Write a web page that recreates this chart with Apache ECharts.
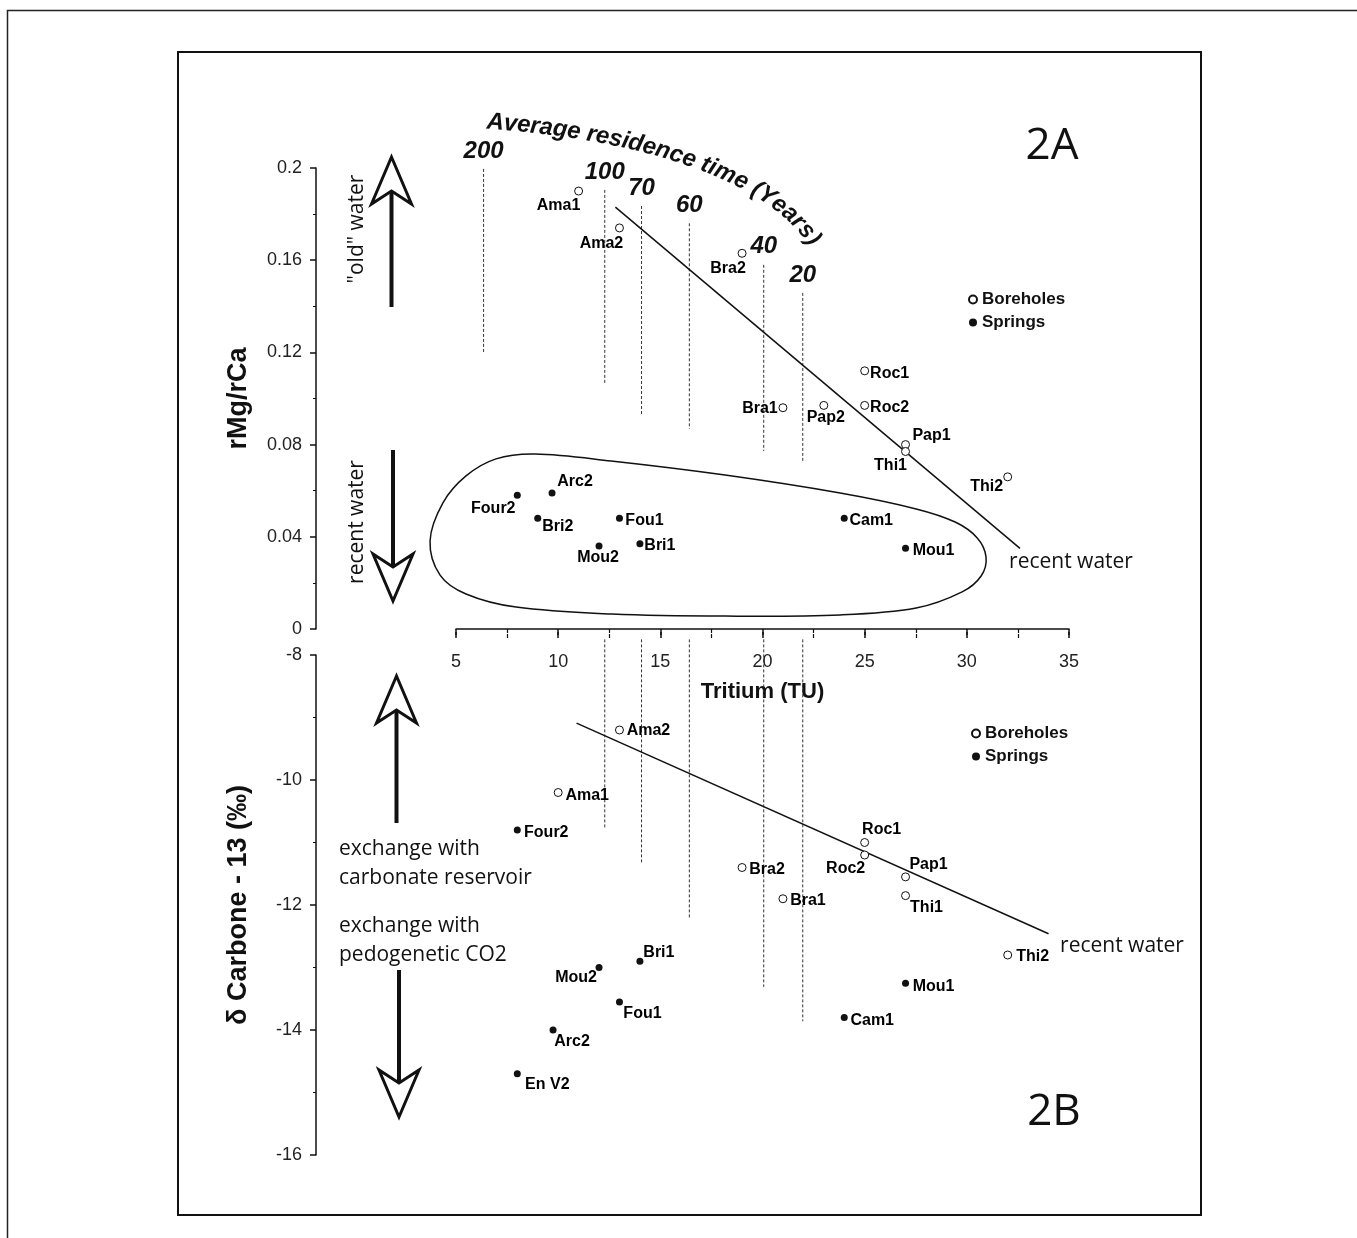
<!DOCTYPE html>
<html>
<head>
<meta charset="utf-8">
<title>Tritium vs rMg/rCa and Carbone-13</title>
<script src="https://cdn.jsdelivr.net/npm/echarts@6.0.0/dist/echarts.min.js"></script>
<style>
    html, body { margin: 0; padding: 0; background: #fff; }
    #main { width: 1357px; height: 1238px; }
</style>
</head>
<body>
<div id="main"></div>
<script type="text/javascript">
// ---- values ----
// 2A : tritium (TU) vs rMg/rCa
var boreNamesA = ['Ama1', 'Ama2', 'Bra2', 'Bra1', 'Pap2', 'Roc1', 'Roc2', 'Pap1', 'Thi1', 'Thi2'];
var boreTritiumA = [11, 13, 19, 21, 23, 25, 25, 27, 27, 32];
var boreMgCa = [0.190, 0.174, 0.163, 0.096, 0.097, 0.112, 0.097, 0.080, 0.077, 0.066];

var springNamesA = ['Four2', 'Arc2', 'Bri2', 'Fou1', 'Mou2', 'Bri1', 'Cam1', 'Mou1'];
var springTritiumA = [8, 9.7, 9, 13, 12, 14, 24, 27];
var springMgCa = [0.058, 0.059, 0.048, 0.048, 0.036, 0.037, 0.048, 0.035];

// 2B : tritium (TU) vs delta C13
var boreNamesB = ['Ama2', 'Ama1', 'Roc1', 'Roc2', 'Bra2', 'Pap1', 'Bra1', 'Thi1', 'Thi2'];
var boreTritiumB = [13, 10, 25, 25, 19, 27, 21, 27, 32];
var boreC13 = [-9.2, -10.2, -11.0, -11.2, -11.4, -11.55, -11.9, -11.85, -12.8];

var springNamesB = ['Four2', 'Bri1', 'Mou2', 'Mou1', 'Fou1', 'Cam1', 'Arc2', 'En V2'];
var springTritiumB = [8, 14, 12, 27, 13, 24, 9.75, 8];
var springC13 = [-10.8, -12.9, -13.0, -13.25, -13.55, -13.8, -14.0, -14.7];

// trend lines
var trendTritiumA = [12.8, 32.6];
var trendMgCa = [0.183, 0.035];
var trendTritiumB = [10.9, 34.0];
var trendC13 = [-9.09, -12.46];

// average residence time (years) reference lines
var residenceYears = ['200', '100', '70', '60', '40', '20'];
var residenceTritium = [6.35, 12.28, 14.08, 16.42, 20.06, 21.97];
var residenceTopA = [0.1996, 0.1905, 0.1835, 0.176, 0.158, 0.1458];
var residenceBottomA = [0.1197, 0.1067, 0.0933, 0.0868, 0.0772, 0.072];
var residenceTopB = [null, -7.75, -7.75, -7.75, -7.75, -7.75];
var residenceBottomB = [null, -10.78, -11.33, -12.21, -13.31, -13.86];

// loop drawn round the springs in 2A
var outlineTritium = [3.73, 4.36, 5.49, 6.96, 8.87, 12.59, 18.17, 23.80, 27.52, 29.43, 30.51,
    30.94, 30.70, 29.77, 27.52, 23.80, 18.17, 12.64, 7.94, 5.49, 4.22];
var outlineMgCa = [0.0382, 0.0547, 0.0664, 0.0738, 0.0759, 0.0729, 0.0668, 0.0590, 0.0521, 0.0464, 0.0395,
    0.0312, 0.0230, 0.0161, 0.0091, 0.0061, 0.0056, 0.0065, 0.0095, 0.0152, 0.0234];

// ---- styling ----
var SANS = '"Liberation Sans", Arial, sans-serif';
var SOFT = '"Open Sans", sans-serif';
var INK = '#111';

// label placement (centre offset from the marker, px)
var labelOffsetA = {
    'Ama1': [-20, 15], 'Ama2': [-18, 16], 'Bra2': [-14, 15], 'Bra1': [-23, 1], 'Pap2': [2, 12],
    'Roc1': [25, 3], 'Roc2': [25, 2], 'Pap1': [26, -9], 'Thi1': [-15, 14], 'Thi2': [-21, 10],
    'Four2': [-24, 13], 'Arc2': [23, -11], 'Bri2': [20, 8], 'Fou1': [25, 2], 'Mou2': [-1, 12],
    'Bri1': [20, 2], 'Cam1': [27, 2], 'Mou1': [28, 2]
};
var labelOffsetB = {
    'Ama2': [29, 1], 'Ama1': [29, 3], 'Four2': [29, 3], 'Roc1': [17, -13], 'Roc2': [-19, 14],
    'Bra2': [25, 2], 'Pap1': [23, -12], 'Bra1': [25, 2], 'Thi1': [21, 12], 'Thi2': [25, 2],
    'Bri1': [19, -9], 'Mou2': [-23, 10], 'Mou1': [28, 3], 'Fou1': [23, 12], 'Cam1': [28, 3],
    'Arc2': [19, 12], 'En V2': [30, 11]
};

function points(names, xs, ys, offsets) {
    return names.map(function (n, i) {
        return { name: n, value: [xs[i], ys[i]], label: { offset: offsets[n] } };
    });
}

var pointLabel = {
    show: true, position: 'inside', formatter: '{b}',
    fontFamily: SANS, fontWeight: 'bold', fontSize: 16, color: '#000',
    textBorderColor: 'transparent', textBorderWidth: 0, textShadowBlur: 0
};

function scatter(name, xi, yi, data, open) {
    return {
        name: name, type: 'scatter', xAxisIndex: xi, yAxisIndex: yi,
        symbol: 'circle', symbolSize: open ? 8 : 7,
        itemStyle: open
            ? { color: '#fff', borderColor: INK, borderWidth: 1, opacity: 1 }
            : { color: INK, opacity: 1 },
        label: pointLabel, emphasis: { disabled: true }, z: 5,
        data: data
    };
}

function trend(xi, yi, xs, ys) {
    return {
        type: 'line', xAxisIndex: xi, yAxisIndex: yi, showSymbol: false, silent: true,
        lineStyle: { color: INK, width: 1.5 }, z: 3,
        data: xs.map(function (x, i) { return [x, ys[i]]; })
    };
}

function residence(xi, yi, tops, bottoms, withText) {
    var data = [];
    residenceTritium.forEach(function (x, i) {
        if (tops[i] !== null) data.push([x, tops[i], bottoms[i], i]);
    });
    return {
        type: 'custom', xAxisIndex: xi, yAxisIndex: yi, silent: true, z: 1,
        data: data,
        renderItem: function (params, api) {
            var p1 = api.coord([api.value(0), api.value(1)]);
            var p2 = api.coord([api.value(0), api.value(2)]);
            var kids = [{
                type: 'line',
                shape: { x1: p1[0], y1: p1[1], x2: p2[0], y2: p2[1] },
                style: { stroke: '#333', lineWidth: 1, lineDash: [3, 2] }
            }];
            if (withText) {
                kids.push({
                    type: 'text', x: p1[0], y: p1[1] - 18,
                    style: {
                        text: residenceYears[api.value(3)], fill: INK,
                        font: 'italic bold 24px ' + SANS, align: 'center', verticalAlign: 'middle'
                    }
                });
            }
            return { type: 'group', children: kids };
        }
    };
}

// curved "Average residence time (Years)" title, laid along a cubic bezier
function curvedText(str, p0, p1, p2, p3, font) {
    var ctx = document.createElement('canvas').getContext('2d');
    ctx.font = font;
    var chars = str.split('');
    var widths = chars.map(function (c) { return ctx.measureText(c).width; });
    var total = widths.reduce(function (a, b) { return a + b; }, 0);

    var N = 400, pts = [], cum = [0];
    for (var k = 0; k <= N; k++) {
        var t = k / N, u = 1 - t;
        pts.push([
            u * u * u * p0[0] + 3 * u * u * t * p1[0] + 3 * u * t * t * p2[0] + t * t * t * p3[0],
            u * u * u * p0[1] + 3 * u * u * t * p1[1] + 3 * u * t * t * p2[1] + t * t * t * p3[1]
        ]);
        if (k > 0) cum.push(cum[k - 1] + Math.hypot(pts[k][0] - pts[k - 1][0], pts[k][1] - pts[k - 1][1]));
    }
    var len = cum[N];
    var gap = (len - total) / (chars.length - 1);

    var out = [], s = 0;
    chars.forEach(function (c, i) {
        var mid = s + widths[i] / 2;
        var j = 1;
        while (j < N && cum[j] < mid) j++;
        var f = (mid - cum[j - 1]) / (cum[j] - cum[j - 1]);
        var x = pts[j - 1][0] + f * (pts[j][0] - pts[j - 1][0]);
        var y = pts[j - 1][1] + f * (pts[j][1] - pts[j - 1][1]);
        var ang = Math.atan2(pts[j][1] - pts[j - 1][1], pts[j][0] - pts[j - 1][0]);
        // lift from baseline to glyph middle
        x += Math.sin(ang) * 9;
        y -= Math.cos(ang) * 9;
        out.push({
            type: 'text', x: x, y: y, rotation: -ang,
            style: { text: c, font: font, fill: INK, align: 'center', verticalAlign: 'middle' }
        });
        s += widths[i] + gap;
    });
    return out;
}

function arrow(x, tip, tail) {
    var d = tail > tip ? 1 : -1;
    return {
        type: 'group', children: [
            { type: 'line', shape: { x1: x, y1: tip + d * 34, x2: x, y2: tail }, style: { stroke: INK, lineWidth: 4 } },
            {
                type: 'polygon',
                shape: { points: [[x, tip], [x + 20, tip + d * 47], [x, tip + d * 34], [x - 20, tip + d * 47]] },
                style: { fill: '#fff', stroke: INK, lineWidth: 3, lineJoin: 'miter' }
            }
        ]
    };
}

function note(text, x, y, opts) {
    opts = opts || {};
    return {
        type: 'text', x: x, y: y, rotation: opts.rotation || 0,
        style: {
            text: text, fill: INK, font: (opts.size || 21) + 'px ' + SOFT,
            align: opts.align || 'center', verticalAlign: 'middle'
        }
    };
}

var tickLabel = { fontFamily: SANS, fontSize: 18, color: '#222' };
var xName = { fontFamily: SANS, fontWeight: 'bold', fontSize: 22, color: INK };
var yName = { fontFamily: SANS, fontWeight: 'bold', fontSize: 27, color: INK };
var axisLine = { show: true, lineStyle: { color: INK, width: 1.5 } };

var graphics = [
    { type: 'polyline', shape: { points: [[7.5, 1238], [7.5, 10.5], [1357, 10.5]] }, style: { stroke: '#222', lineWidth: 1.5, fill: null } },
    { type: 'rect', shape: { x: 178, y: 52, width: 1023, height: 1163 }, style: { fill: null, stroke: INK, lineWidth: 2 } },
    arrow(391.5, 157, 307),
    arrow(393, 601, 450),
    arrow(396.5, 676, 823),
    arrow(399, 1117, 970),
    note('"old" water', 357, 229, { rotation: Math.PI / 2 }),
    note('recent water', 357, 522, { rotation: Math.PI / 2 }),
    note('exchange with', 339, 849, { align: 'left' }),
    note('carbonate reservoir', 339, 878, { align: 'left' }),
    note('exchange with', 339, 926, { align: 'left' }),
    note('pedogenetic CO2', 339, 955, { align: 'left' }),
    note('recent water', 1071, 562),
    note('recent water', 1122, 946),
    note('2A', 1052, 146, { size: 44 }),
    note('2B', 1054, 1112, { size: 44 })
].concat(curvedText('Average residence time (Years)',
    [486, 131], [636, 141], [764, 180], [808, 248], 'italic bold 24px ' + SANS));

var chart = echarts.init(document.getElementById('main'));

var option = {
    backgroundColor: '#fff',
    animation: false,
    grid: [
        { left: 456, top: 168, width: 613, height: 461 },
        { left: 456, top: 655, width: 613, height: 500 }
    ],
    xAxis: [{
        gridIndex: 0, type: 'value', min: 5, max: 35, interval: 5, position: 'bottom', offset: 9,
        axisLine: axisLine,
        axisTick: { show: true, inside: false, length: 6, lineStyle: { color: INK, width: 1.5 } },
        minorTick: { show: true, splitNumber: 2, length: 4, lineStyle: { color: INK, width: 1.2 } },
        axisLabel: Object.assign({ margin: 15 }, tickLabel),
        splitLine: { show: false },
        name: 'Tritium (TU)', nameLocation: 'middle', nameGap: 43, nameTextStyle: xName
    }, {
        gridIndex: 0, type: 'value', min: 5, max: 35, interval: 5, position: 'bottom', offset: 9,
        axisLine: { show: false },
        axisTick: { show: true, inside: true, length: 6, lineStyle: { color: INK, width: 1.5 } },
        minorTick: { show: true, splitNumber: 2, length: 4, lineStyle: { color: INK, width: 1.2 } },
        axisLabel: { show: false },
        splitLine: { show: false }
    }, {
        gridIndex: 1, type: 'value', min: 5, max: 35, show: false, splitLine: { show: false }
    }],
    yAxis: [{
        gridIndex: 0, type: 'value', min: 0, max: 0.2, interval: 0.04, offset: 140,
        axisLine: axisLine,
        axisTick: { show: true, length: 6, lineStyle: { color: INK, width: 1.5 } },
        minorTick: { show: true, splitNumber: 2, length: 3, lineStyle: { color: INK } },
        axisLabel: Object.assign({ margin: 14 }, tickLabel),
        splitLine: { show: false },
        name: 'rMg/rCa', nameLocation: 'middle', nameRotate: 90, nameGap: 64, nameTextStyle: yName
    }, {
        gridIndex: 1, type: 'value', min: -16, max: -8, interval: 2, offset: 140,
        axisLine: axisLine,
        axisTick: { show: true, length: 6, lineStyle: { color: INK, width: 1.5 } },
        minorTick: { show: true, splitNumber: 2, length: 3, lineStyle: { color: INK } },
        axisLabel: Object.assign({ margin: 14 }, tickLabel),
        splitLine: { show: false },
        name: 'δ Carbone - 13 (‰)', nameLocation: 'middle', nameRotate: 90, nameGap: 64, nameTextStyle: yName
    }],
    legend: [{
        data: ['Boreholes', 'Springs'], orient: 'vertical', left: 968, top: 291,
        itemWidth: 8, itemHeight: 8, itemGap: 6, padding: 0, selectedMode: false,
        textStyle: { fontFamily: SANS, fontWeight: 'bold', fontSize: 17, color: INK }
    }, {
        data: ['Boreholes', 'Springs'], orient: 'vertical', left: 971, top: 725,
        itemWidth: 8, itemHeight: 8, itemGap: 6, padding: 0, selectedMode: false,
        textStyle: { fontFamily: SANS, fontWeight: 'bold', fontSize: 17, color: INK }
    }],
    graphic: { elements: graphics },
    series: [
        residence(0, 0, residenceTopA, residenceBottomA, true),
        residence(2, 1, residenceTopB, residenceBottomB, false),
        trend(0, 0, trendTritiumA, trendMgCa),
        trend(2, 1, trendTritiumB, trendC13),
        {
            type: 'custom', xAxisIndex: 0, yAxisIndex: 0, silent: true, z: 2,
            data: [[outlineTritium[0], outlineMgCa[0]]],
            renderItem: function (params, api) {
                var ring = outlineTritium.map(function (x, i) { return api.coord([x, outlineMgCa[i]]); });
                return {
                    type: 'polygon', shape: { points: ring, smooth: 0.35 },
                    style: { fill: null, stroke: INK, lineWidth: 1.5 }
                };
            }
        },
        scatter('Boreholes', 0, 0, points(boreNamesA, boreTritiumA, boreMgCa, labelOffsetA), true),
        scatter('Springs', 0, 0, points(springNamesA, springTritiumA, springMgCa, labelOffsetA), false),
        scatter('Boreholes', 2, 1, points(boreNamesB, boreTritiumB, boreC13, labelOffsetB), true),
        scatter('Springs', 2, 1, points(springNamesB, springTritiumB, springC13, labelOffsetB), false)
    ]
};

chart.setOption(option);
</script>
</body>
</html>
